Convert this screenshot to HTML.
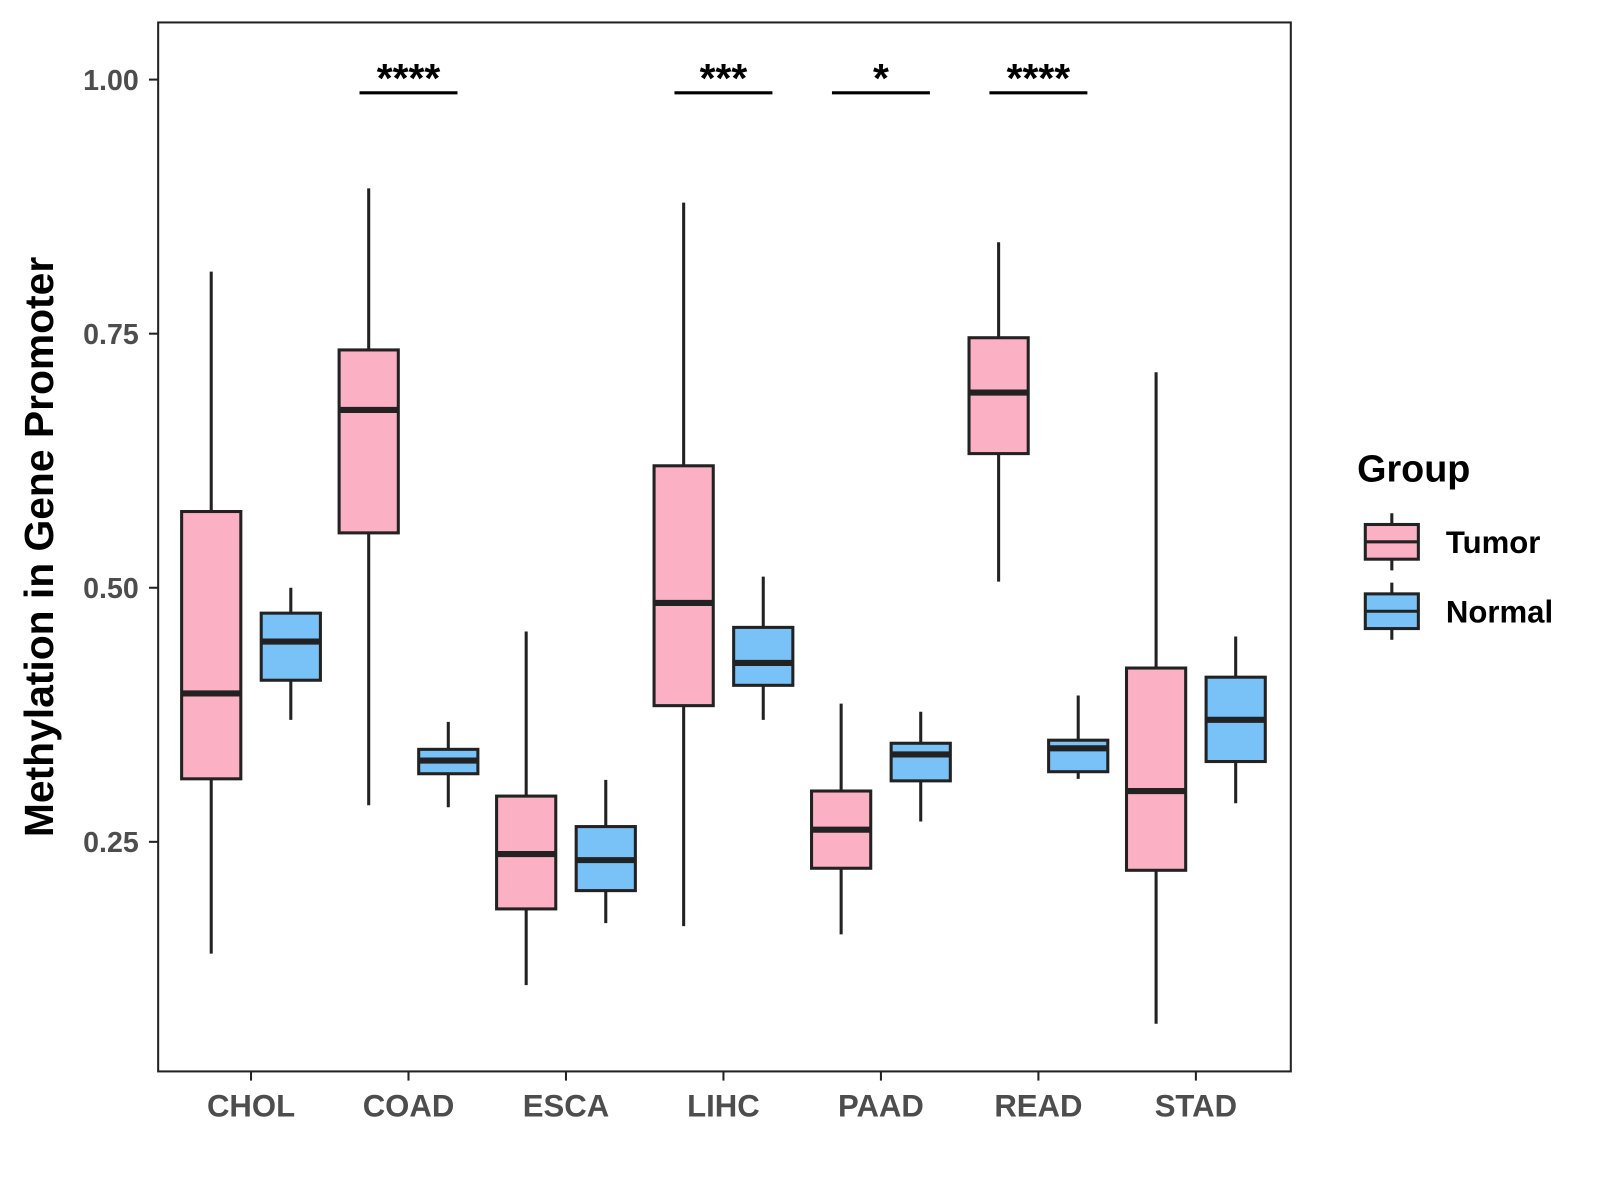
<!DOCTYPE html>
<html><head><meta charset="utf-8"><style>
body{margin:0;background:#fff}
svg{display:block;font-family:"Liberation Sans",Arial,sans-serif}
</style></head><body>
<svg id="chart" width="1600" height="1200" viewBox="0 0 1600 1200">
<g transform="scale(1.0204)">
<rect x="155" y="22" width="1110" height="1028" fill="#fff" stroke="#222" stroke-width="2"/>
<g id="yaxis"></g>
<g id="xaxis"></g>
<g id="boxes"></g>
<g id="sig"></g>
<text x="52" y="536" transform="rotate(-90 52 536)" text-anchor="middle" font-size="40" font-weight="bold" fill="#000">Methylation in Gene Promoter</text>
<g>
<text x="1330" y="472" font-size="37" font-weight="bold">Group</text>
<g>
<line x1="1364" y1="503" x2="1364" y2="559" stroke="#222" stroke-width="3"/>
<rect x="1338" y="514" width="52" height="34" fill="#FBB1C3" stroke="#222" stroke-width="3"/>
<line x1="1338" y1="531" x2="1390" y2="531" stroke="#222" stroke-width="3"/>
<text x="1417" y="542" font-size="30.5" font-weight="bold">Tumor</text></g>
<g>
<line x1="1364" y1="571" x2="1364" y2="627" stroke="#222" stroke-width="3"/>
<rect x="1338" y="582" width="52" height="34" fill="#79C2F8" stroke="#222" stroke-width="3"/>
<line x1="1338" y1="599" x2="1390" y2="599" stroke="#222" stroke-width="3"/>
<text x="1417" y="610" font-size="30.5" font-weight="bold">Normal</text></g>
</g>
</g>
</svg>
<script>
const categories=["CHOL","COAD","ESCA","LIHC","PAAD","READ","STAD"];
const yTicks=[0.25,0.5,0.75,1.0];
const yTickLabels=["0.25","0.50","0.75","1.00"];
// [min,q1,median,q3,max]
const tumorStats=[[0.140,0.312,0.396,0.575,0.811],[0.286,0.554,0.675,0.734,0.893],[0.109,0.184,0.238,0.295,0.457],[0.167,0.384,0.485,0.620,0.879],[0.159,0.224,0.262,0.300,0.386],[0.506,0.632,0.692,0.746,0.840],[0.071,0.222,0.300,0.421,0.712]];
const normalStats=[[0.370,0.409,0.447,0.475,0.500],[0.284,0.317,0.330,0.341,0.368],[0.170,0.202,0.232,0.265,0.311],[0.370,0.404,0.426,0.461,0.511],[0.270,0.310,0.336,0.347,0.378],[0.312,0.319,0.342,0.350,0.394],[0.288,0.329,0.370,0.412,0.452]];
const sigLabels=["","****","","***","*","****",""];
const sigY=0.987;
const NS="http://www.w3.org/2000/svg";
const y=v=>78+(1-v)*996;
const x=i=>246+i*154.33;
function mk(parent,tag,attrs,text){const e=document.createElementNS(NS,tag);for(const k in attrs)e.setAttribute(k,attrs[k]);if(text!==undefined)e.textContent=text;document.getElementById(parent).appendChild(e);return e;}
yTicks.forEach((t,i)=>{
 const l=mk("yaxis","line",{x1:146,x2:155,y1:y(t),y2:y(t),stroke:"#222","stroke-width":2});
 
 
 const tx=mk("yaxis","text",{x:136,y:y(t)+10,"text-anchor":"end","font-size":28,"font-weight":"bold",fill:"#4d4d4d"},yTickLabels[i]);
 
 
});
categories.forEach((c,i)=>{
 const l=mk("xaxis","line",{x1:x(i),x2:x(i),y1:1050,y2:1059,stroke:"#222","stroke-width":2});
 
 
 const tx=mk("xaxis","text",{x:x(i),y:1094,"text-anchor":"middle","font-size":30.5,"font-weight":"bold",fill:"#4d4d4d"},c);
 
 
});
function box(cx,s,fill,name){
 const g=mk("boxes","g",{});
 
 
 const add=(tag,a)=>{const e=document.createElementNS(NS,tag);for(const k in a)e.setAttribute(k,a[k]);g.appendChild(e);};
 add("line",{x1:cx,x2:cx,y1:y(s[4]),y2:y(s[0]),stroke:"#222","stroke-width":3});
 add("rect",{x:cx-29,y:y(s[3]),width:58,height:y(s[1])-y(s[3]),fill:fill,stroke:"#222","stroke-width":3});
 add("line",{x1:cx-29,x2:cx+29,y1:y(s[2]),y2:y(s[2]),stroke:"#222","stroke-width":6});
}
categories.forEach((c,i)=>{
 box(x(i)-39,tumorStats[i],"#FBB1C3","box-"+c.toLowerCase()+"-tumor");
 box(x(i)+39,normalStats[i],"#79C2F8","box-"+c.toLowerCase()+"-normal");
 if(sigLabels[i]){
  const l=mk("sig","line",{x1:x(i)-48,x2:x(i)+48,y1:y(sigY),y2:y(sigY),stroke:"#000","stroke-width":3});
  
  
  const t=mk("sig","text",{x:x(i),y:y(sigY)-1,"text-anchor":"middle","font-size":40,"font-weight":"bold",fill:"#000"},sigLabels[i]);
  
  
 }
});
</script>
</body></html>
